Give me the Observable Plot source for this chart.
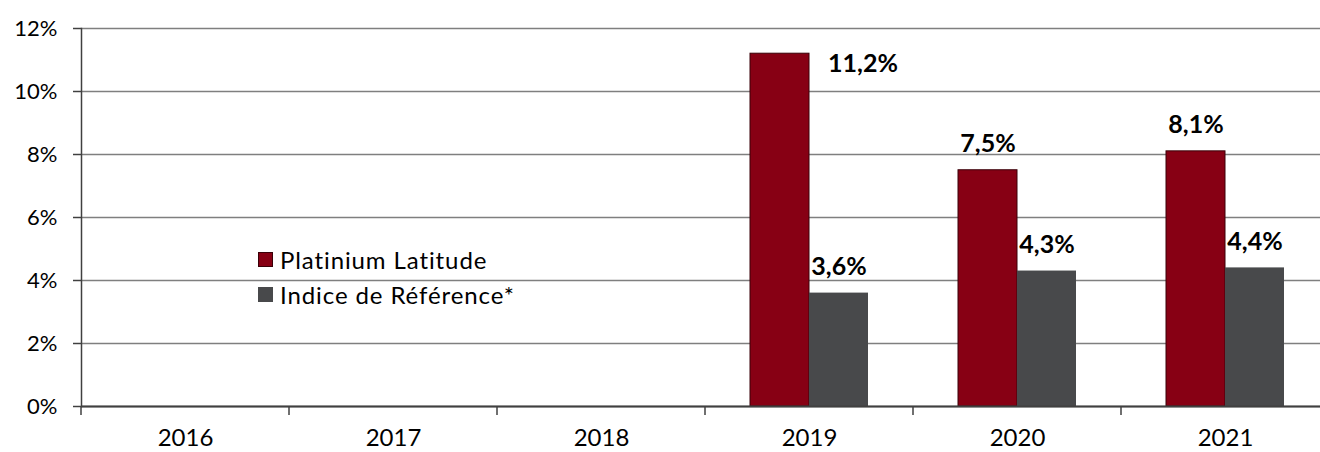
<!DOCTYPE html>
<html>
<head>
<meta charset="utf-8">
<script src="https://cdn.jsdelivr.net/npm/d3@7"></script>
<script src="https://cdn.jsdelivr.net/npm/@observablehq/plot@0.6"></script>
<style>
  html, body { margin: 0; padding: 0; background: #fff; }
  #wrap { position: relative; width: 1320px; height: 452px; overflow: hidden; font-family: Lato, "Noto Sans", sans-serif; }
  #legend { position: absolute; left: 258px; top: 242px; font-size: 24px; letter-spacing: 0.9px; color: #000; line-height: 35px; }
  #legend .item { display: flex; align-items: center; white-space: nowrap; height: 35px; }
  #legend .sw { width: 15px; height: 15px; margin-right: 7px; box-sizing: border-box; }
</style>
</head>
<body>
<div id="wrap"><div id="legend"></div></div>
<script>
const years = ["2016", "2017", "2018", "2019", "2020", "2021"];
const series = ["Platinium Latitude", "Indice de Référence*"];
const platinium = [null, null, null, 11.2, 7.5, 8.1];
const indice = [null, null, null, 3.6, 4.3, 4.4];
const yTicks = [0, 2, 4, 6, 8, 10, 12];
const colors = ["#870014", "#48494b"];

const data = [];
years.forEach((yr, i) => {
  if (platinium[i] != null) data.push({year: yr, series: series[0], value: platinium[i]});
  if (indice[i] != null) data.push({year: yr, series: series[1], value: indice[i]});
});
// one grid row per year and tick so that every year panel (even empty ones) is drawn
const gridData = years.flatMap(yr => yTicks.map(t => ({year: yr, tick: t})));
const fmt = v => v.toFixed(1).replace(".", ",") + "%";
const isTopRight = d => d.series === series[0] && d.year === "2019";

const chart = Plot.plot({
  width: 1320,
  height: 452,
  marginLeft: 80,
  marginRight: -10,
  marginTop: 28,
  marginBottom: 46,
  style: {fontFamily: "Lato, 'Noto Sans', sans-serif", fontSize: "20px", color: "#000", background: "transparent", overflow: "visible"},
  fx: {domain: years, padding: 0, axis: null},
  x: {domain: series, paddingInner: 0, paddingOuter: 0.735, axis: null},
  y: {domain: [0, 12], axis: null},
  marks: [
    Plot.gridY(gridData, {fx: "year", y: "tick", stroke: "#7f7f7f", strokeOpacity: 1, strokeWidth: 1.5}),
    Plot.axisY(yTicks, {tickSize: 8, tickPadding: 16, tickFormat: d => d + "%", fontSize: 22, stroke: "#404040", strokeWidth: 1.5, label: null, fill: "#000", style: {letterSpacing: "0.5px"}}),
    Plot.barY(data, {filter: d => d.series === series[0], fx: "year", x: "series", y: "value", fill: colors[0], stroke: "#3a0008", strokeWidth: 1}),
    Plot.barY(data, {filter: d => d.series === series[1], fx: "year", x: "series", y: "value", fill: colors[1]}),
    Plot.ruleY(gridData.filter(d => d.tick === 0), {fx: "year", y: "tick", stroke: "#404040", strokeWidth: 2}),
    Plot.frame({anchor: "left", facetAnchor: "left", stroke: "#404040", strokeWidth: 1.5}),
    Plot.axisFx({anchor: "bottom", tickSize: 0, tickPadding: 22, label: null, fontSize: 24, fill: "#000"}),
    Plot.text(data, {filter: d => !isTopRight(d), fx: "year", x: "series", y: "value", text: d => fmt(d.value), lineAnchor: "bottom", dy: -18, fontSize: 25, fontWeight: "bold", fill: "#000", style: {letterSpacing: "0.6px"}}),
    Plot.text(data, {filter: isTopRight, fx: "year", x: () => series[1], y: "value", text: d => fmt(d.value), lineAnchor: "bottom", dx: 24, dy: 18, fontSize: 25, fontWeight: "bold", fill: "#000", style: {letterSpacing: "0.6px"}})
  ]
});

// boundary ticks of the category axis, placed with the plot's own scales
const fxS = chart.scale("fx");
const yS = chart.scale("y");
const y0 = yS.apply(0);
d3.select(chart).append("g")
  .attr("stroke", "#404040").attr("stroke-width", 1.5)
  .selectAll("line").data(years).join("line")
  .attr("x1", d => fxS.apply(d)).attr("x2", d => fxS.apply(d))
  .attr("y1", y0).attr("y2", y0 + 9);

const wrap = document.getElementById("wrap");
wrap.insertBefore(chart, wrap.firstChild);

const legend = d3.select("#legend");
series.forEach((s, i) => {
  const it = legend.append("div").attr("class", "item");
  it.append("div").attr("class", "sw")
    .style("background", colors[i])
    .style("border", i === 0 ? "1px solid #3a0008" : "none");
  it.append("span").text(s);
});
</script>
</body>
</html>
